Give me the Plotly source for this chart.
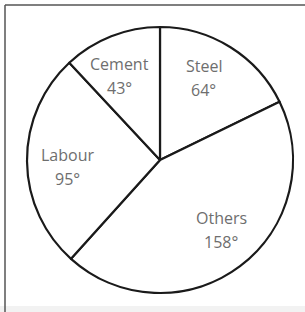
import math
import plotly.graph_objects as go

categories = ["Steel", "Others", "Labour", "Cement"]
degrees = [64, 158, 95, 43]

W, H = 305, 312
cx, cy, r = 160, 160, 133  # pixel centre/radius of the pie

dom_x = [(cx - r) / W, (cx + r) / W]
dom_y = [(H - cy - r) / H, (H - cy + r) / H]

fig = go.Figure(go.Pie(
    labels=categories,
    values=degrees,
    sort=False,
    direction="clockwise",
    rotation=0,
    textinfo="none",
    hoverinfo="none",
    marker=dict(colors=["white"] * len(categories), line=dict(color="#1a1a1a", width=2.2)),
    domain=dict(x=dom_x, y=dom_y),
    showlegend=False,
))

# label positions derived from the data (near mid-angle of each slice)
annotations = []
start = 0.0
total = sum(degrees)
font = dict(family="Open Sans, Lato, sans-serif", size=16, color="#6e6e6e")
for cat, val in zip(categories, degrees):
    mid = start + val / 2 * 360 / total - 4
    start += val * 360 / total
    rad = math.radians(mid)
    px = cx + 0.70 * r * math.sin(rad)
    py = cy - 0.70 * r * math.cos(rad)
    for txt, shift in ((cat, 12), (f"{val}°", -12)):
        annotations.append(dict(
            x=px / W, y=1 - py / H, xref="paper", yref="paper",
            text=txt, showarrow=False, font=font, yshift=shift,
            align="center", xanchor="center", yanchor="middle",
        ))

shapes = [
    dict(type="line", xref="paper", yref="paper", x0=5 / W, x1=1, y0=1 - 5 / H, y1=1 - 5 / H,
         line=dict(color="#555555", width=1.5)),
    dict(type="line", xref="paper", yref="paper", x0=5 / W, x1=5 / W, y0=0, y1=1 - 5 / H,
         line=dict(color="#555555", width=1.5)),
    dict(type="rect", xref="paper", yref="paper", x0=0, x1=1, y0=0, y1=6 / H,
         fillcolor="#f2f2f2", line=dict(width=0), layer="below"),
]

fig.update_layout(
    width=W, height=H,
    margin=dict(l=0, r=0, t=0, b=0),
    paper_bgcolor="white", plot_bgcolor="white",
    annotations=annotations, shapes=shapes,
)

fig.write_html(
    "out.html",
    config={"displayModeBar": False},
    post_script="document.body.style.margin='0';document.body.style.overflow='hidden';",
)
